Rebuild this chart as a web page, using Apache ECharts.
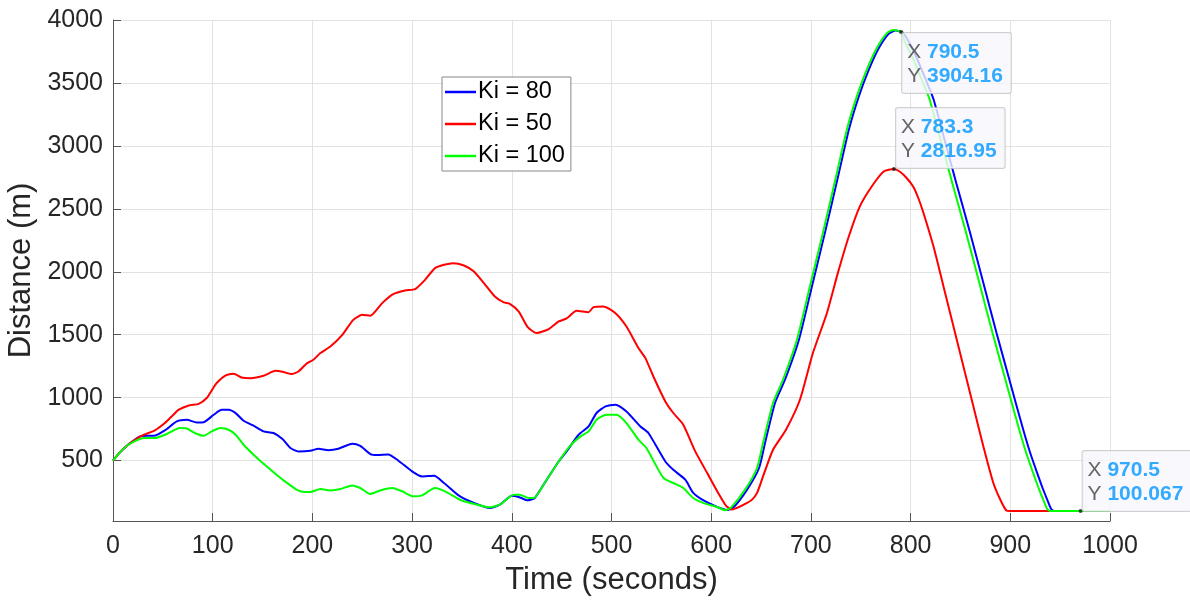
<!DOCTYPE html>
<html>
<head>
<meta charset="utf-8">
<script src="https://cdn.jsdelivr.net/npm/echarts@6/dist/echarts.min.js"></script>
<style>
html,body{margin:0;padding:0;background:#fff;}
#chart{width:1190px;height:600px;}
</style>
</head>
<body>
<div id="chart"></div>
<script>
// ---- data (time in seconds, distance in m) ----
const seriesNames = ['Ki = 80', 'Ki = 50', 'Ki = 100'];

const ki80 = [[0,500],[7,565],[14,618],[20,655],[27,692],[34,697],[41,697],[52,740],[64,811],[74,824],[84,803],[91,805],[101,864],[109,904],[116,904],[123,877],[131,816],[141,777],[151,732],[161,719],[170,671],[178,600],[186,573],[198,578],[206,594],[216,583],[226,594],[240,634],[248,616],[258,552],[265,544],[276,549],[286,501],[300,414],[310,374],[322,380],[332,322],[347,221],[362,163],[378,123],[388,150],[400,221],[407,211],[416,184],[423,203],[435,348],[447,493],[455,573],[467,705],[477,771],[485,878],[494,930],[504,944],[515,890],[529,771],[537,719],[554,493],[562,427],[574,348],[582,243],[591,189],[606,131],[616,108],[622,125],[636,269],[648,441],[654,640],[664,957],[674,1142],[688,1460],[701,1883],[714,2307],[728,2783],[738,3127],[748,3391],[758,3603],[768,3775],[778,3890],[785,3916],[792,3900],[798,3830],[806,3700],[815,3530],[823,3370],[835,3020],[846,2700],[860,2300],[873,1910],[886,1520],[900,1116],[913,745],[920,560],[927,400],[932,290],[937,190],[941,115],[944,100],[1000,100]];

const ki50 = [[0,500],[7,565],[14,618],[22,665],[31,705],[42,740],[52,798],[60,860],[66,904],[76,938],[86,951],[94,997],[100,1070],[104,1116],[113,1176],[121,1190],[129,1160],[138,1155],[151,1174],[163,1213],[170,1205],[179,1187],[186,1208],[194,1269],[201,1301],[208,1354],[218,1406],[230,1499],[241,1618],[250,1658],[258,1650],[270,1751],[281,1822],[293,1851],[303,1862],[313,1936],[323,2029],[332,2055],[341,2068],[352,2050],[362,2002],[372,1910],[383,1803],[392,1756],[398,1745],[407,1684],[416,1560],[425,1513],[437,1544],[447,1605],[455,1629],[465,1690],[477,1679],[482,1719],[492,1724],[504,1671],[515,1565],[527,1394],[534,1314],[542,1168],[554,970],[562,878],[572,785],[584,573],[596,401],[607,243],[615,140],[621,112],[627,128],[635,160],[641,190],[646,243],[652,374],[662,586],[675,745],[689,983],[702,1354],[716,1671],[727,1989],[738,2280],[749,2518],[761,2677],[773,2796],[783.3,2817],[789,2796],[796,2745],[803,2672],[808,2580],[813,2465],[823,2200],[833,1883],[843,1565],[853,1248],[863,930],[873,612],[883,322],[890,189],[896,104],[900,100],[1000,100]];

const ki100 = [[0,500],[7,565],[14,618],[22,655],[31,679],[42,679],[54,711],[67,758],[74,755],[82,719],[91,697],[99,732],[108,758],[116,745],[123,705],[131,626],[141,547],[154,454],[164,388],[175,320],[185,265],[192,250],[198,250],[208,274],[218,263],[228,274],[240,303],[248,282],[258,235],[268,263],[280,282],[290,256],[301,216],[310,224],[323,282],[335,248],[348,189],[365,150],[378,129],[388,150],[402,229],[408,229],[417,203],[422,203],[435,348],[447,493],[458,613],[469,692],[477,732],[485,824],[495,864],[505,864],[515,798],[527,666],[535,600],[552,362],[562,322],[572,282],[582,203],[594,158],[606,131],[614,105],[620,128],[634,269],[646,441],[652,640],[662,957],[672,1142],[686,1460],[699,1883],[712,2307],[726,2783],[736,3127],[746,3391],[756,3603],[766,3775],[776,3894],[783,3921],[790.5,3904],[794,3830],[802,3700],[811,3530],[819,3370],[831,3020],[842,2700],[856,2300],[869,1910],[882,1520],[896,1116],[909,745],[916,560],[923,400],[928,290],[933,189],[937,115],[940,100],[1000,100]];

// data tips
const tipX = [790.5, 783.3, 970.5];
const tipY = [3904.16, 2816.95, 100.067];

// axis ticks
const yTicks = [500, 1000, 1500, 2000, 2500, 3000, 3500, 4000];
const xTickStep = 100;

// ---- chart ----
const FONT = '"Liberation Sans", Arial, Helvetica, sans-serif';
const axisColor = '#555555';
const textColor = '#262626';
const gridColor = '#e2e2e2';

const tipPlacement = [
  {position: [3, 3], verticalAlign: 'top'},
  {position: [4, 1], verticalAlign: 'bottom'},
  {position: [4, 2], verticalAlign: 'bottom'}
];

const tipData = tipX.map((x, i) => ({
  value: [x, tipY[i]],
  label: Object.assign({}, tipPlacement[i])
}));

const plain = v => String(v);

const chart = echarts.init(document.getElementById('chart'), null, {renderer: 'canvas'});
chart.setOption({
  animation: false,
  backgroundColor: '#ffffff',
  textStyle: {fontFamily: FONT},
  grid: {left: 113, right: 80, top: 20, bottom: 79, containLabel: false, outerBoundsMode: 'none'},
  legend: {
    data: seriesNames,
    orient: 'vertical',
    left: 442,
    top: 77,
    padding: [3, 6, 3, 3],
    itemGap: 8,
    itemWidth: 31,
    itemHeight: 2.5,
    icon: 'rect',
    borderColor: '#888888',
    borderWidth: 1,
    backgroundColor: '#ffffff',
    textStyle: {fontFamily: FONT, fontSize: 23.5, color: '#000000', lineHeight: 24, padding: [0, 0, 0, -3]}
  },
  xAxis: {
    type: 'value',
    min: 0,
    max: 1000,
    interval: xTickStep,
    name: 'Time (seconds)',
    nameLocation: 'middle',
    nameGap: 44,
    nameTextStyle: {fontFamily: FONT, fontSize: 31, color: textColor},
    axisLine: {show: true, onZero: false, lineStyle: {color: axisColor, width: 1}},
    axisTick: {show: true, inside: true, length: 8, lineStyle: {color: axisColor}},
    axisLabel: {fontFamily: FONT, fontSize: 25, color: textColor, margin: 13, formatter: plain},
    splitLine: {show: true, lineStyle: {color: gridColor, width: 1}}
  },
  yAxis: {
    type: 'value',
    min: 20,
    max: 4000,
    name: 'Distance (m)',
    nameLocation: 'middle',
    nameGap: 67,
    nameRotate: 90,
    nameTextStyle: {fontFamily: FONT, fontSize: 31, color: textColor},
    axisLine: {show: true, onZero: false, lineStyle: {color: axisColor, width: 1}},
    axisTick: {show: true, inside: true, length: 8, lineStyle: {color: axisColor}, customValues: yTicks},
    axisLabel: {fontFamily: FONT, fontSize: 25, color: textColor, margin: 10, customValues: yTicks, formatter: plain},
    splitLine: {show: true, lineStyle: {color: gridColor, width: 1}}
  },
  series: [
    {name: seriesNames[0], type: 'line', data: ki80, showSymbol: false, smooth: 0.2,
     lineStyle: {color: '#0000ff', width: 2}, itemStyle: {color: '#0000ff'}, z: 2},
    {name: seriesNames[1], type: 'line', data: ki50, showSymbol: false, smooth: 0.2,
     lineStyle: {color: '#ff0000', width: 2}, itemStyle: {color: '#ff0000'}, z: 3},
    {name: seriesNames[2], type: 'line', data: ki100, showSymbol: false, smooth: 0.2,
     lineStyle: {color: '#00ff00', width: 2}, itemStyle: {color: '#00ff00'}, z: 4},
    {
      name: 'tips', type: 'scatter', data: tipData, symbol: 'circle', symbolSize: 4,
      itemStyle: {color: '#1a1a1a'}, z: 10,
      label: {
        show: true,
        align: 'left',
        backgroundColor: '#f8f8fd',
        borderColor: '#c4c4c4',
        borderWidth: 1,
        borderRadius: 2,
        padding: [7, 8, 5, 5],
        fontFamily: FONT,
        fontSize: 21,
        lineHeight: 24,
        color: '#404040',
        formatter: p => '{k|X} {v|' + String(p.value[0]) + '}\n{k|Y} {v|' + String(p.value[1]) + '}',
        rich: {
          k: {fontFamily: FONT, fontSize: 21, lineHeight: 24, color: '#404040'},
          v: {fontFamily: FONT, fontSize: 21, lineHeight: 24, color: '#0096ff', fontWeight: 'bold'}
        }
      }
    }
  ]
});
</script>
</body>
</html>
